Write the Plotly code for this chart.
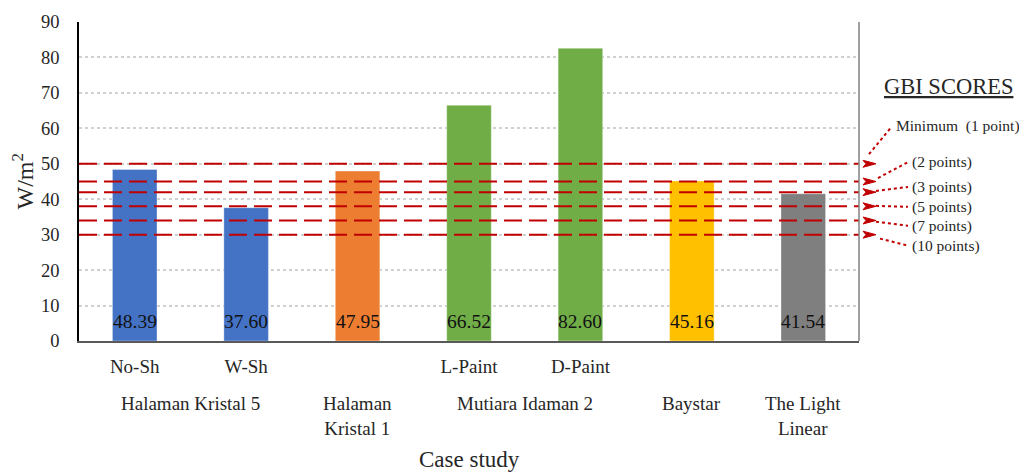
import plotly.graph_objects as go

# ---- data ----
bar_labels = ["No-Sh", "W-Sh", "", "L-Paint", "D-Paint", "", ""]
values = [48.39, 37.60, 47.95, 66.52, 82.60, 45.16, 41.54]
bar_colors = ["#4472C4", "#4472C4", "#ED7D31", "#70AD47", "#70AD47", "#FFC000", "#7F7F7F"]
group_labels = ["Halaman Kristal 5", "Halaman<br>Kristal 1", "Mutiara Idaman 2", "Baystar", "The Light<br>Linear"]
group_pos = [0.5, 2, 3.5, 5, 6]
gbi_thresholds = [50, 45, 42, 38, 34, 30]
gbi_labels = ["Minimum  (1 point)", "(2 points)", "(3 points)", "(5 points)", "(7 points)", "(10 points)"]
y_ticks = list(range(0, 91, 10))

FONT = "Liberation Serif, Times New Roman, serif"
TXT = "#262626"
RED = "#C00000"

L, R, T, B = 79, 160, 20, 131
W, H = 1019, 472
PW = W - L - R
PH = H - T - B
NCAT = len(values)
YMAX = 90


def px_x(p):
    return (p - L) / PW


def px_y_data(p):
    return (H - B - p) / PH * YMAX


xs = list(range(NCAT))
fig = go.Figure()
fig.add_trace(go.Bar(x=xs, y=values, width=0.4,
                     marker=dict(color=bar_colors, line=dict(width=1, color="rgba(255,255,255,0.35)")),
                     showlegend=False, hoverinfo="y"))

annotations = []
# value labels near base of bars
for i, v in enumerate(values):
    annotations.append(dict(x=i, y=px_y_data(321), xref="x", yref="y", text=f"{v:.2f}", showarrow=False,
                            xanchor="center", font=dict(family=FONT, size=19.5, color="#111")))
# group labels (second row)
for pos, lab in zip(group_pos, group_labels):
    annotations.append(dict(x=pos, y=-(391 - (H - B)) / PH, xref="x", yref="paper", text=lab,
                            showarrow=False, xanchor="center", yanchor="top",
                            font=dict(family=FONT, size=19, color=TXT)))
# axis title x
annotations.append(dict(x=0.5, y=-(460 - (H - B)) / PH, xref="paper", yref="paper", text="Case study",
                        showarrow=False, xanchor="center", yanchor="middle",
                        font=dict(family=FONT, size=23, color=TXT)))
# axis title y
annotations.append(dict(x=-(L - 22) / PW, y=0.5, xref="paper", yref="paper", text="W/m<sup>2</sup>",
                        showarrow=False, textangle=-90, xanchor="center", yanchor="middle",
                        font=dict(family=FONT, size=24, color=TXT)))
# GBI header
annotations.append(dict(x=px_x(948), y=px_y_data(85), xref="paper", yref="y", text="<u>GBI SCORES</u>",
                        showarrow=False, xanchor="center", yanchor="middle",
                        font=dict(family=FONT, size=22.5, color=TXT)))

# label layout (pixel positions of text and connector ends)
text_px = [(894, 125), (910, 161), (910, 186), (910, 206), (910, 225), (910, 245)]
line_end_px = [(869, 153), (878, 177), (876, 190), (876, 205), (876, 221), (880, 238)]

shapes = []
for thr, lab, (tx, ty), (ex, ey) in zip(gbi_thresholds, gbi_labels, text_px, line_end_px):
    # red dashed threshold line
    shapes.append(dict(type="line", xref="paper", yref="y", x0=0, x1=1, y0=thr, y1=thr,
                       line=dict(color=RED, width=2, dash="18px,7px"), layer="above"))
    # arrowhead just right of the plot
    hx0, hx1 = px_x(863), px_x(876)
    dy = 3.5 / PH * YMAX
    shapes.append(dict(type="path", xref="paper", yref="y",
                       path=f"M {hx0},{thr + dy} L {hx1},{thr} L {hx0},{thr - dy} L {px_x(866)},{thr} Z",
                       fillcolor=RED, line=dict(color=RED, width=1)))
    # dotted connector
    shapes.append(dict(type="line", xref="paper", yref="y", x0=px_x(ex), y0=px_y_data(ey),
                       x1=px_x(tx - 2), y1=px_y_data(ty),
                       line=dict(color=RED, width=2, dash="dot")))
    annotations.append(dict(x=px_x(tx), y=px_y_data(ty), xref="paper", yref="y", text=lab,
                            showarrow=False, xanchor="left", yanchor="middle",
                            font=dict(family=FONT, size=15.5, color=TXT)))

# right border
shapes.append(dict(type="line", xref="paper", yref="paper", x0=1, x1=1, y0=0, y1=1,
                   line=dict(color="#808080", width=1.5)))

tick_idx = [i for i, t in enumerate(bar_labels) if t]

fig.update_layout(
    width=W, height=H,
    margin=dict(l=L, r=R, t=T, b=B),
    paper_bgcolor="white", plot_bgcolor="white",
    font=dict(family=FONT, color=TXT),
    shapes=shapes, annotations=annotations,
)
fig.update_xaxes(range=[-0.5, NCAT - 0.5], tickmode="array", tickvals=tick_idx,
                 ticktext=[bar_labels[i] for i in tick_idx],
                 tickfont=dict(family=FONT, size=19, color=TXT), ticks="outside", ticklen=7,
                 tickcolor="rgba(0,0,0,0)", showgrid=False, showline=True, linecolor="#595959",
                 linewidth=1.5, zeroline=False, fixedrange=True)
fig.update_yaxes(range=[0, YMAX], tickmode="array", tickvals=y_ticks,
                 tickfont=dict(family=FONT, size=18.5, color=TXT), showgrid=True, gridcolor="#D0D0D0",
                 griddash="dot", gridwidth=1.5, showline=True, linecolor="black", linewidth=1.5,
                 zeroline=False, ticks="outside", ticklen=14, tickcolor="rgba(0,0,0,0)", fixedrange=True)

fig.write_html("out.html", config={"displayModeBar": False},
               post_script="document.body.style.margin='0';document.body.style.overflow='hidden';")
